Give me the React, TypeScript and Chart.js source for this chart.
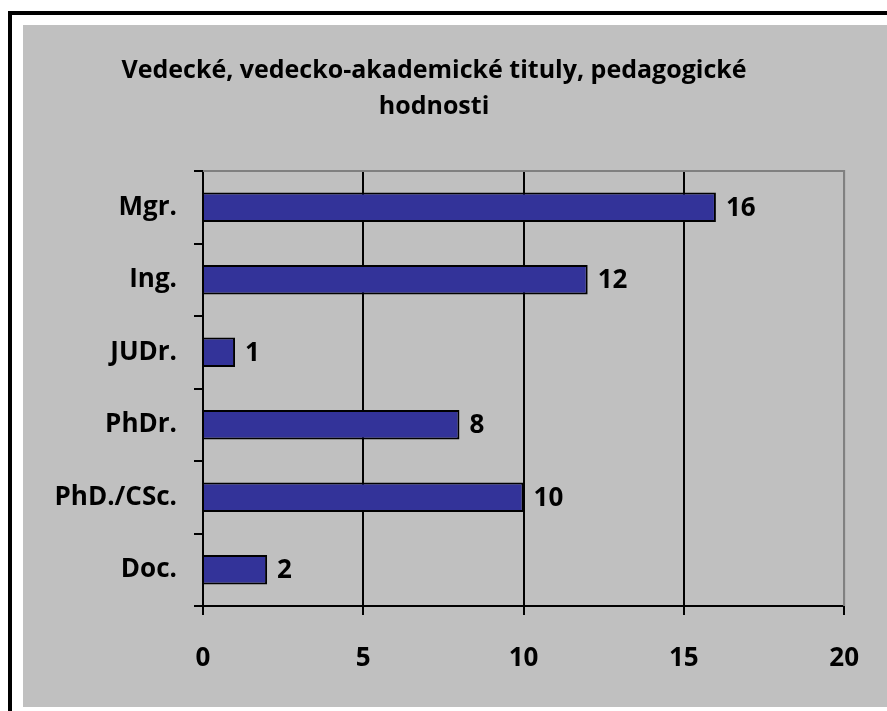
import React, { useEffect, useRef } from "react";
import { Chart, registerables } from "chart.js";
Chart.register(...registerables);

const categories = ["Mgr.", "Ing.", "JUDr.", "PhDr.", "PhD./CSc.", "Doc."];
const values = [16, 12, 1, 8, 10, 2];
const titleLines = ["Vedecké, vedecko-akademické tituly, pedagogické", "hodnosti"];
const xMin = 0;
const xMax = 20;
const xStep = 5;

const FONT = "'Open Sans'";
const FS = 26;
const TFS = 25;
const W = 864;
const H = 682;

const decor = {
  id: "decor",
  afterDraw(chart: any) {
    const { ctx, chartArea } = chart;
    ctx.save();
    ctx.strokeStyle = "#808080";
    ctx.lineWidth = 2;
    ctx.beginPath();
    ctx.moveTo(chartArea.left, chartArea.top);
    ctx.lineTo(chartArea.right, chartArea.top);
    ctx.lineTo(chartArea.right, chartArea.bottom);
    ctx.stroke();
    ctx.restore();
  },
  afterDatasetsDraw(chart: any) {
    const { ctx } = chart;
    const meta = chart.getDatasetMeta(0);
    ctx.save();
    ctx.fillStyle = "#000";
    ctx.font = `bold ${FS}px ${FONT}`;
    ctx.textBaseline = "middle";
    ctx.textAlign = "left";
    meta.data.forEach((bar: any, i: number) => {
      ctx.fillText(String(values[i]), bar.x + 10, bar.y + 1);
    });
    ctx.restore();
  },
};

export default function App() {
  const ref = useRef<HTMLCanvasElement>(null);
  useEffect(() => {
    const chart = new Chart(ref.current!, {
      type: "bar",
      data: {
        labels: categories,
        datasets: [
          {
            data: values,
            backgroundColor: "#333399",
            borderColor: "#000",
            borderWidth: 2,
            categoryPercentage: 0.41,
            barPercentage: 1,
          },
        ],
      },
      plugins: [decor],
      options: {
        indexAxis: "y",
        responsive: false,
        animation: false,
        layout: { padding: { left: 0, right: 42, top: 0, bottom: 0 } },
        plugins: {
          legend: { display: false },
          tooltip: { enabled: false },
          title: {
            display: true,
            text: titleLines,
            color: "#000",
            font: { family: FONT, size: TFS, weight: "bold", lineHeight: "36px" } as any,
            padding: { top: 28, bottom: 46 },
          },
        },
        scales: {
          x: {
            min: xMin,
            max: xMax,
            ticks: { stepSize: xStep, color: "#000", font: { family: FONT, size: FS, weight: "bold" }, padding: 28 },
            grid: {
              color: (c: any) => (c.tick && c.tick.value === xMax ? "#808080" : "#000"),
              lineWidth: 2,
              tickColor: "#000",
              tickLength: 9,
              drawTicks: true,
            },
            border: { color: "#000", width: 2 },
            afterFit: (s: any) => {
              s.height = 101;
            },
          },
          y: {
            ticks: { color: "#000", font: { family: FONT, size: FS, weight: "bold" }, padding: 17 },
            grid: {
              drawOnChartArea: false,
              drawTicks: true,
              tickLength: 9,
              tickColor: "#000",
              lineWidth: 2,
              offset: true,
            },
            border: { color: "#000", width: 2 },
            afterFit: (s: any) => {
              s.width = 180;
            },
          },
        },
      } as any,
    });
    return () => chart.destroy();
  }, []);

  return (
    <div style={{ position: "fixed", inset: 0, overflow: "hidden", background: "#fff" }}>
      <div
        style={{
          position: "absolute",
          left: 8,
          top: 11,
          width: 920,
          height: 740,
          border: "4px solid #000",
          background: "#fff",
        }}
      >
        <div
          style={{
            position: "absolute",
            left: 11,
            top: 10,
            width: 900,
            height: H,
            background: "#C0C0C0",
          }}
        >
          <canvas ref={ref} width={W} height={H} style={{ display: "block" }} />
        </div>
      </div>
    </div>
  );
}
